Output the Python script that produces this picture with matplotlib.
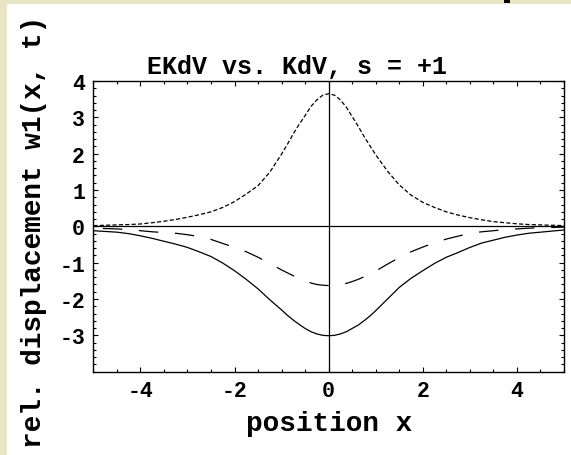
import matplotlib
matplotlib.use("Agg")
import matplotlib.pyplot as plt
import numpy as np
from matplotlib.patches import Rectangle
from matplotlib.ticker import FixedLocator, MultipleLocator

# ---- data ----
x_pos = [-5.0, -4.75, -4.5, -4.25, -4.0, -3.75, -3.5, -3.25, -3.0, -2.75,
         -2.5, -2.25, -2.0, -1.75, -1.5, -1.25, -1.0, -0.875, -0.75, -0.625,
         -0.5, -0.375, -0.25, -0.125, 0.0, 0.125, 0.25, 0.375, 0.5, 0.625,
         0.75, 0.875, 1.0, 1.25, 1.5, 1.75, 2.0, 2.25,
         2.5, 2.75, 3.0, 3.25, 3.5, 3.75, 4.0, 4.25, 4.5, 4.75, 5.0]

w_dotted = [0.02, 0.03, 0.04, 0.05, 0.065, 0.10, 0.14, 0.19, 0.25, 0.32,
            0.40, 0.52, 0.68, 0.89, 1.12, 1.49, 1.99, 2.26, 2.55, 2.81,
            3.05, 3.30, 3.48, 3.61, 3.65, 3.61, 3.48, 3.28, 3.02, 2.76,
            2.48, 2.22, 1.97, 1.52, 1.14, 0.86, 0.66, 0.52,
            0.40, 0.31, 0.24, 0.18, 0.13, 0.10, 0.07, 0.05, 0.04, 0.03, 0.02]

w_dashed = [-0.05, -0.06, -0.07, -0.09, -0.12, -0.15, -0.17, -0.19, -0.23, -0.28,
            -0.36, -0.47, -0.58, -0.70, -0.85, -1.02, -1.20, -1.28, -1.36, -1.43,
            -1.50, -1.56, -1.60, -1.62, -1.63, -1.62, -1.60, -1.57, -1.52, -1.46,
            -1.39, -1.31, -1.23, -1.04, -0.86, -0.70, -0.57, -0.45,
            -0.35, -0.27, -0.19, -0.15, -0.12, -0.09, -0.07, -0.05, -0.04, -0.03, -0.02]

w_solid = [-0.12, -0.14, -0.16, -0.20, -0.26, -0.33, -0.41, -0.49, -0.58, -0.70,
           -0.83, -1.01, -1.22, -1.46, -1.72, -2.02, -2.30, -2.45, -2.58, -2.70,
           -2.81, -2.90, -2.96, -3.00, -3.01, -3.00, -2.96, -2.90, -2.81, -2.72,
           -2.60, -2.47, -2.32, -2.00, -1.68, -1.43, -1.22, -1.02,
           -0.85, -0.72, -0.58, -0.46, -0.38, -0.30, -0.24, -0.19, -0.16, -0.13, -0.10]

x_ticks = [-4, -2, 0, 2, 4]
x_ticklabels = ["-4", "-2", "0", "2", "4"]
y_ticks = [-3, -2, -1, 0, 1, 2, 3, 4]
y_ticklabels = ["-3", "-2", "-1", "0", "1", "2", "3", "4"]

title = "EKdV vs. KdV, s = +1"
xlabel = "position x"
ylabel = "rel. displacement w1(x, t)"

# ---- style ----
FONT = "Liberation Mono"
plt.rcParams["lines.scale_dashes"] = False
W, H = 571, 456

fig = plt.figure(figsize=(W / 100, H / 100), dpi=100, facecolor="#E8E4C4")
# white panel
fig.patches.append(Rectangle((7 / W, 0), 1 - 7 / W, (H - 5) / H,
                             transform=fig.transFigure, facecolor="white",
                             edgecolor="none", zorder=-10))
# little dark mark at the top edge
fig.patches.append(Rectangle((504 / W, (H - 3.5) / H), 6 / W, 3.5 / H,
                             transform=fig.transFigure, facecolor="black",
                             edgecolor="none", zorder=-9))

left, right, top, bottom = 93.3, 564.0, 82.0, 372.7
ax = fig.add_axes([left / W, (H - bottom) / H, (right - left) / W, (bottom - top) / H])
ax.set_zorder(1)
ax.set_facecolor("white")
ax.set_xlim(-5, 5)
ax.set_ylim(-4, 4)

ax.axhline(0, color="black", lw=0.9, zorder=1)
ax.axvline(0, color="black", lw=0.9, zorder=1)

# dash phase so that a dash of the middle curve ends at x = 0 (as in the reference)
DASH_ON, DASH_OFF = 14.0, 12.0
pts = ax.transData.transform(np.column_stack([x_pos, w_dashed]))
seg = np.hypot(np.diff(pts[:, 0]), np.diff(pts[:, 1])) * 72.0 / fig.dpi
i0 = x_pos.index(0.0)
L0 = seg[:i0].sum()
offset = (DASH_ON - L0) % (DASH_ON + DASH_OFF)

ax.plot(x_pos, w_dotted, color="black", lw=0.9, dashes=(3.0, 1.6))
ax.plot(x_pos, w_dashed, color="black", lw=0.9,
        linestyle=(offset, (DASH_ON, DASH_OFF)))
ax.plot(x_pos, w_solid, color="black", lw=0.9)

ax.xaxis.set_major_locator(FixedLocator(x_ticks))
ax.set_xticklabels(x_ticklabels)
ax.xaxis.set_minor_locator(MultipleLocator(0.5))
ax.yaxis.set_major_locator(FixedLocator(y_ticks))
ax.set_yticklabels(y_ticklabels)
ax.yaxis.set_minor_locator(MultipleLocator(0.2))

ax.tick_params(which="both", direction="in", top=True, right=True, width=0.8)
ax.tick_params(which="major", length=3.5)
ax.tick_params(which="minor", length=2.0)
ax.tick_params(axis="x", which="major", pad=6)
ax.tick_params(axis="y", which="major", pad=6)
for lab in ax.get_xticklabels() + ax.get_yticklabels():
    lab.set_fontfamily(FONT)
    lab.set_fontweight("bold")
    lab.set_fontsize(15.5)
for s in ax.spines.values():
    s.set_linewidth(1.0)

fig.text(297 / W, 1 - 74 / H, title, ha="center", va="baseline",
         fontsize=18, fontweight="bold", family=FONT)
fig.text(329 / W, 1 - 431 / H, xlabel, ha="center", va="baseline",
         fontsize=20, fontweight="bold", family=FONT)
fig.text(34 / W, 1 - 232 / H, ylabel, ha="center", va="center", rotation=90,
         fontsize=20, fontweight="bold", family=FONT)

fig.savefig("out.png", dpi=100, facecolor=fig.get_facecolor())
